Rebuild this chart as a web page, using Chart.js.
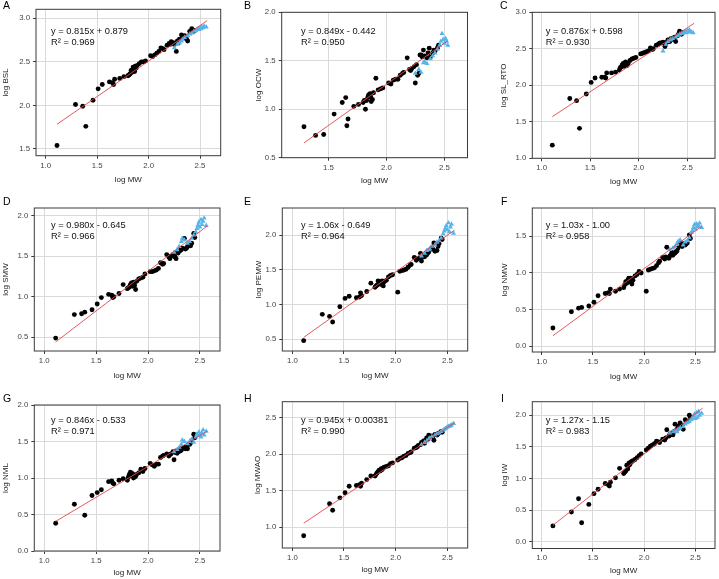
<!DOCTYPE html>
<html>
<head>
<meta charset="utf-8">
<script src="https://cdn.jsdelivr.net/npm/chart.js@4.4.0/dist/chart.umd.min.js"></script>
<style>
  html, body { margin: 0; padding: 0; background: #fff; }
  #wrap { position: relative; width: 719px; height: 579px; overflow: hidden; }
  #wrap canvas { position: absolute; }
</style>
</head>
<body>
<div id="wrap"></div>
<script>
// log MW of each species (black dots) and of the triangle group
const logMW = [
  1.11, 1.29, 1.36, 1.39, 1.46, 1.51, 1.55, 1.62, 1.65, 1.66,
  1.67, 1.72, 1.76, 1.80, 1.81, 1.82, 1.83, 1.84, 1.845, 1.85,
  1.86, 1.865, 1.87, 1.88, 1.89, 1.91, 1.93, 1.95, 1.97, 2.02,
  2.04, 2.06, 2.08, 2.10, 2.12, 2.14, 2.15, 2.18, 2.20, 2.21,
  2.22, 2.24, 2.25, 2.26, 2.27, 2.28, 2.29, 2.30, 2.31, 2.32,
  2.33, 2.35, 2.36, 2.37, 2.38, 2.40, 2.41, 2.42, 2.44, 2.45
];
const logMWTri = [2.25, 2.28, 2.30, 2.32, 2.33, 2.35, 2.38, 2.40, 2.42, 2.44,
                  2.46, 2.47, 2.48, 2.49, 2.50, 2.51, 2.52, 2.53, 2.54, 2.56];

// y values, one array per panel (null = not plotted in that panel)
const bslY = [
  1.54, 2.01, 1.99, 1.76, 2.06, 2.19, 2.24, 2.27, 2.26, 2.24,
  2.30, 2.31, 2.33, 2.34, 2.35, 2.36, 2.40, 2.38, 2.41, 2.44,
  2.42, 2.39, 2.45, 2.43, 2.46, 2.48, 2.50, 2.50, 2.51, 2.57,
  2.56, 2.58, 2.60, 2.62, 2.66, 2.65, 2.64, 2.69, 2.71, 2.70,
  2.73, 2.72, 2.70, 2.71, 2.62, 2.74, 2.72, 2.76, 2.75, 2.81,
  2.78, 2.80, 2.77, 2.76, 2.74, 2.85, 2.84, 2.88, 2.85, 2.86
];
const ocwY = [
  null, 0.82, null, 0.73, 0.74, null, 0.95, 1.07, 1.12, 0.83,
  0.90, 1.03, 1.05, 1.07, 1.09, 1.00, 1.09, 1.12, 1.14, 1.15,
  1.16, 1.13, 1.08, 1.10, 1.17, 1.32, 1.20, 1.21, 1.22, 1.27,
  1.26, 1.30, 1.31, 1.31, 1.35, 1.37, 1.38, 1.53, 1.41, 1.40,
  1.42, 1.44, 1.27, 1.46, 1.35, 1.37, 1.56, 1.56, 1.54, 1.61,
  1.55, 1.53, 1.58, 1.63, 1.54, 1.58, 1.61, 1.60, 1.63, 1.66
];
const slRtoY = [
  1.18, 1.82, 1.79, 1.41, 1.88, 2.04, 2.10, 2.11, 2.11, 2.10,
  2.17, 2.17, 2.18, 2.21, 2.24, 2.25, 2.28, 2.30, 2.27, 2.26,
  2.31, 2.32, 2.29, 2.27, 2.30, 2.34, 2.36, 2.37, 2.38, 2.43,
  2.44, 2.45, 2.46, 2.47, 2.51, 2.49, 2.50, 2.55, 2.56, 2.57,
  2.58, 2.58, 2.59, 2.58, 2.53, 2.57, 2.59, 2.62, 2.60, 2.60,
  2.64, 2.63, 2.65, 2.66, 2.60, 2.68, 2.70, 2.74, 2.70, 2.72
];
const smwY = [
  0.49, 0.78, 0.79, 0.81, 0.84, 0.91, 0.99, 1.03, 1.02, 0.99,
  1.00, 1.04, 1.15, 1.10, 1.11, 1.12, 1.15, 1.17, 1.14, 1.13,
  1.18, 1.16, 1.14, 1.09, 1.19, 1.22, 1.23, 1.24, 1.28, 1.31,
  1.31, 1.32, 1.33, 1.35, 1.42, 1.40, 1.41, 1.52, 1.49, 1.47,
  1.50, 1.52, 1.50, 1.49, 1.47, 1.55, 1.54, 1.56, 1.57, 1.58,
  1.60, 1.72, 1.59, 1.60, 1.62, 1.64, 1.63, 1.66, 1.78, 1.73
];
const pemwY = [
  0.48, 0.86, 0.83, 0.75, 0.97, 1.09, 1.12, 1.10, 1.11, 1.17,
  1.13, 1.19, 1.31, 1.25, 1.27, 1.28, 1.34, 1.30, 1.32, 1.33,
  1.29, 1.31, 1.34, 1.27, 1.33, 1.35, 1.40, 1.42, 1.43, 1.18,
  1.48, 1.49, 1.50, 1.51, 1.54, 1.57, 1.58, 1.68, 1.64, 1.66,
  1.67, 1.74, 1.63, 1.69, 1.70, 1.69, 1.71, 1.72, 1.74, 1.76,
  1.79, 1.82, 1.80, 1.89, 1.77, 1.78, 1.84, 1.88, 1.96, 1.94
];
const nmwY = [
  0.25, 0.47, 0.52, 0.53, 0.55, 0.60, 0.69, 0.72, 0.73, 0.72,
  0.78, 0.75, 0.78, 0.80, 0.84, 0.88, 0.86, 0.90, 0.91, 0.93,
  0.88, 0.92, 0.93, 0.85, 0.90, 0.96, 0.98, 1.02, 1.00, 0.75,
  1.04, 1.05, 1.06, 1.07, 1.10, 1.14, 1.16, 1.21, 1.19, 1.22,
  1.35, 1.20, 1.23, 1.25, 1.28, 1.24, 1.27, 1.27, 1.29, 1.30,
  1.34, 1.42, 1.38, 1.36, 1.40, 1.38, 1.40, 1.41, 1.52, 1.47
];
const nmlY = [
  0.38, 0.64, null, 0.49, 0.76, 0.80, 0.84, 0.95, 0.96, 0.93,
  0.92, 0.97, 0.99, 0.97, 1.01, 1.05, 1.08, 1.03, 1.06, 1.06,
  1.00, 1.04, 1.04, 1.02, 1.05, 1.07, 1.12, 1.09, 1.13, 1.20,
  1.18, 1.16, 1.19, 1.19, 1.28, 1.30, 1.31, 1.33, 1.30, 1.32,
  1.33, 1.36, 1.25, 1.35, 1.37, 1.34, 1.36, 1.39, 1.37, 1.38,
  1.41, 1.42, 1.40, 1.43, 1.40, 1.46, 1.48, 1.51, 1.60, 1.55
];
const mwaoY = [
  0.88, null, 1.32, 1.23, 1.40, 1.47, 1.56, 1.57, 1.58, 1.56,
  1.60, 1.65, 1.70, 1.70, 1.72, 1.74, 1.76, 1.78, 1.77, 1.77,
  1.80, 1.79, 1.79, 1.81, 1.82, 1.83, 1.84, 1.87, 1.88, 1.92,
  1.94, 1.95, 1.97, 1.98, 2.01, 2.02, 2.03, 2.08, 2.09, 2.10,
  2.12, 2.13, 2.16, 2.15, 2.18, 2.15, 2.19, 2.22, 2.20, 2.26,
  2.23, 2.25, 2.24, 2.19, 2.27, 2.26, 2.28, 2.29, 2.31, 2.30
];
const iwY = [
  0.25, 0.47, 0.68, 0.30, 0.59, 0.76, 0.83, 0.92, 0.90, 0.88,
  0.94, 1.01, 1.16, 1.08, 1.10, 1.12, 1.21, 1.15, 1.20, 1.24,
  1.22, 1.25, 1.26, 1.27, 1.28, 1.30, 1.33, 1.36, 1.39, 1.45,
  1.48, 1.51, 1.53, 1.55, 1.59, 1.58, 1.57, 1.62, 1.61, 1.64,
  1.77, 1.67, 1.70, 1.69, 1.72, 1.69, 1.74, 1.86, 1.76, 1.78,
  1.83, 1.88, 1.82, 1.84, 1.78, 1.93, 1.91, 1.90, 2.00, 1.96
];

// triangle group
const bslTri  = [2.66, 2.70, 2.72, 2.74, 2.76, 2.78, 2.80, 2.82, 2.83, 2.85, 2.86, 2.87, 2.88, 2.87, 2.89, 2.88, 2.90, 2.89, 2.91, 2.90];
const ocwTri  = [1.37, 1.41, 1.38, 1.48, 1.49, 1.47, 1.52, 1.55, 1.58, 1.62, 1.66, 1.70, 1.78, 1.72, 1.68, 1.73, 1.70, 1.66, null, null];
const slRtoTri = [2.47, 2.56, 2.60, 2.62, 2.63, 2.64, 2.66, 2.68, 2.70, 2.71, 2.72, 2.73, 2.74, 2.72, 2.75, 2.73, 2.76, 2.74, 2.73, 2.72];
const smwTri  = [1.55, 1.58, 1.62, 1.68, 1.72, 1.70, 1.66, 1.68, 1.72, 1.76, 1.80, 1.84, 1.88, 1.92, 1.86, 1.95, 1.89, 1.93, 1.97, 1.88];
const pemwTri = [1.70, 1.74, 1.78, 1.79, 1.80, 1.84, 1.86, 1.90, 1.92, 1.96, 2.02, 2.06, 2.10, 2.14, 2.08, 2.18, 2.05, 2.12, 2.16, 2.03];
const nmwTri  = [1.32, 1.34, 1.36, 1.40, 1.43, 1.45, 1.38, 1.42, 1.44, 1.48, 1.55, 1.58, 1.62, 1.66, 1.60, 1.67, 1.63, 1.65, 1.68, 1.62];
const nmlTri  = [1.36, 1.39, 1.42, 1.46, 1.52, 1.50, 1.47, 1.50, 1.53, 1.49, 1.56, 1.60, 1.58, 1.63, 1.60, 1.56, 1.62, 1.66, 1.59, 1.64];
const mwaoTri = [2.13, 2.16, 2.18, 2.21, 2.22, 2.24, 2.26, 2.28, 2.29, 2.31, 2.33, 2.34, 2.35, 2.36, 2.37, 2.38, 2.38, 2.39, 2.40, 2.42];
const iwTri   = [1.72, 1.74, 1.76, 1.74, 1.78, 1.80, 1.82, 1.86, 1.88, 1.90, 1.93, 1.96, 1.99, 2.02, 1.95, 2.04, 1.97, 2.06, 2.00, 2.03];

const dotSeries = [bslY, ocwY, slRtoY, smwY, pemwY, nmwY, nmlY, mwaoY, iwY];
const triSeries = [bslTri, ocwTri, slRtoTri, smwTri, pemwTri, nmwTri, nmlTri, mwaoTri, iwTri];

const letters = ['A', 'B', 'C', 'D', 'E', 'F', 'G', 'H', 'I'];
const yTitles = ['log BSL', 'log OCW', 'log SL_RTO', 'log SMW', 'log PEMW', 'log NMW', 'log NML', 'log MWAO', 'log IW'];

// regression fits, as printed on each panel
const slopes = [0.815, 0.849, 0.876, 0.980, 1.06, 1.03, 0.846, 0.945, 1.27];
const intercepts = [0.879, -0.442, 0.598, -0.645, -0.649, -1.00, -0.533, 0.00381, -1.15];
const eqText = ['y = 0.815x + 0.879', 'y = 0.849x - 0.442', 'y = 0.876x + 0.598',
                'y = 0.980x - 0.645', 'y = 1.06x - 0.649', 'y = 1.03x - 1.00',
                'y = 0.846x - 0.533', 'y = 0.945x + 0.00381', 'y = 1.27x - 1.15'];
const r2Text = ['0.969', '0.950', '0.930', '0.966', '0.964', '0.958', '0.971', '0.990', '0.983'];
const fitFrom = [1.11, 1.29, 1.11, 1.11, 1.11, 1.11, 1.11, 1.11, 1.11];
const fitTo   = [2.57, 2.53, 2.57, 2.57, 2.57, 2.56, 2.57, 2.57, 2.57];

// axes
const xTicks = [
  [1.0, 1.5, 2.0, 2.5], [1.5, 2.0, 2.5], [1.0, 1.5, 2.0, 2.5],
  [1.0, 1.5, 2.0, 2.5], [1.0, 1.5, 2.0, 2.5], [1.0, 1.5, 2.0, 2.5],
  [1.0, 1.5, 2.0, 2.5], [1.0, 1.5, 2.0, 2.5], [1.0, 1.5, 2.0, 2.5]
];
const yTicks = [
  [1.5, 2.0, 2.5, 3.0], [0.5, 1.0, 1.5, 2.0], [1.0, 1.5, 2.0, 2.5, 3.0],
  [0.5, 1.0, 1.5, 2.0], [0.5, 1.0, 1.5, 2.0], [0.0, 0.5, 1.0, 1.5],
  [0.0, 0.5, 1.0, 1.5, 2.0], [1.0, 1.5, 2.0, 2.5], [0.0, 0.5, 1.0, 1.5, 2.0]
];
const xRange = [
  [0.906, 2.701], [1.098, 2.70], [0.904, 2.785],
  [0.904, 2.693], [0.903, 2.697], [0.909, 2.69],
  [0.904, 2.693], [0.903, 2.697], [0.909, 2.69]
];
const yRange = [
  [1.423, 3.103], [0.5, 2.0], [1.0, 3.0],
  [0.331, 2.095], [0.331, 2.394], [-0.078, 1.886],
  [0.0, 2.0], [0.712, 2.719], [-0.108, 2.215]
];

// page geometry (pixels): cell, plot frame, title and label anchors
const cells = [
  [0, 0, 240, 193], [240, 0, 239, 193], [479, 0, 240, 193],
  [0, 193, 240, 193], [240, 193, 239, 193], [479, 193, 240, 193],
  [0, 386, 240, 193], [240, 386, 239, 193], [479, 386, 240, 193]
];
const frames = [
  [36, 9.3, 220.7, 155.7], [281.7, 12.3, 467.5, 157.7], [532.3, 12.3, 717, 158.3],
  [34.3, 208, 220, 351], [282.3, 208, 467.7, 351], [532.3, 208, 717, 352],
  [34.3, 405, 220, 551], [282.3, 401.7, 467.7, 548], [532.3, 401.7, 717, 548.5]
];
const yTitleX = [6, 258.3, 504, 6, 259, 505, 6, 258, 505];
const xTitleY = [180, 181, 181.5, 375.7, 375.7, 377, 573, 569.5, 571];
const letterPos = [[3, 6.5], [244, 6], [500, 6], [3, 202], [244, 202], [501, 202], [3, 399], [244, 399.5], [501, 399]];
const eqPos = [[51, 31], [301, 31], [545.7, 31], [51, 225.3], [301, 225.3], [545.7, 225.3], [51, 420], [301, 420], [545.7, 420]];

const FONT = '"Liberation Sans", Arial, Helvetica, sans-serif';
const TICK_SIZE = 7.8;
const TITLE_SIZE = 8;

Chart.defaults.font.family = FONT;

// frame, equation text and panel letter
const panelDecor = {
  id: 'panelDecor',
  afterDraw(chart, args, opts) {
    const {ctx, chartArea: a} = chart;
    ctx.save();
    ctx.strokeStyle = '#3a3a3a';
    ctx.lineWidth = 1;
    ctx.strokeRect(a.left, a.top, a.right - a.left, a.bottom - a.top);
    ctx.fillStyle = '#111';
    ctx.textAlign = 'left';
    ctx.textBaseline = 'middle';
    ctx.font = '9.3px ' + FONT;
    ctx.fillText(opts.eq, opts.eqX, opts.eqY);
    ctx.fillText('R\u00B2 = ' + opts.r2, opts.eqX, opts.eqY + 11.3);
    ctx.font = '10.5px ' + FONT;
    ctx.fillStyle = '#000';
    ctx.fillText(opts.letter, opts.letterX, opts.letterY);
    ctx.restore();
  }
};

function makePanel(i) {
  const [cx, cy, cw, ch] = cells[i];
  const [L, T, R, B] = frames[i];
  const wrap = document.getElementById('wrap');
  const canvas = document.createElement('canvas');
  canvas.width = cw;
  canvas.height = ch;
  canvas.style.left = cx + 'px';
  canvas.style.top = cy + 'px';
  canvas.style.width = cw + 'px';
  canvas.style.height = ch + 'px';
  wrap.appendChild(canvas);

  const lh = TITLE_SIZE * 1.2;
  const padLeft = yTitleX[i] - cx - lh / 2;
  const yAxisW = L - cx - padLeft;
  const xAxisH = cy + ch - B;
  const xTitlePad = cy + ch - xTitleY[i] - lh / 2;

  const dots = logMW.map((x, k) => ({x: x, y: dotSeries[i][k]})).filter(p => p.y !== null);
  const tris = logMWTri.map((x, k) => ({x: x, y: triSeries[i][k]})).filter(p => p.y !== null);
  const fit = [fitFrom[i], fitTo[i]].map(x => ({x: x, y: slopes[i] * x + intercepts[i]}));

  new Chart(canvas, {
    type: 'scatter',
    data: {
      datasets: [
        {
          data: fit, showLine: true, borderColor: '#e2474b', borderWidth: 0.9,
          pointRadius: 0, fill: false
        },
        {
          data: tris, pointStyle: 'triangle', pointRadius: 2.9,
          backgroundColor: '#56B4E9', borderWidth: 0
        },
        {
          data: dots, pointStyle: 'circle', pointRadius: 2.45,
          backgroundColor: '#000', borderWidth: 0
        }
      ]
    },
    options: {
      responsive: false,
      animation: false,
      events: [],
      layout: { padding: { left: padLeft, top: T - cy, right: cx + cw - R, bottom: 0 } },
      plugins: {
        legend: { display: false },
        tooltip: { enabled: false },
        panelDecor: {
          eq: eqText[i], r2: r2Text[i], letter: letters[i],
          eqX: eqPos[i][0] - cx, eqY: eqPos[i][1] - cy,
          letterX: letterPos[i][0] - cx, letterY: letterPos[i][1] - cy
        }
      },
      scales: {
        x: {
          type: 'linear', min: xRange[i][0], max: xRange[i][1],
          afterBuildTicks: s => { s.ticks = xTicks[i].map(v => ({value: v})); },
          afterFit: s => { s.height = xAxisH; },
          ticks: {
            callback: v => Number(v).toFixed(1), autoSkip: false, maxRotation: 0,
            padding: 2, color: '#444', font: { size: TICK_SIZE }
          },
          grid: { color: '#dadada', lineWidth: 1, tickLength: 3, tickColor: '#3a3a3a' },
          border: { display: false },
          title: {
            display: true, text: 'log MW', color: '#1a1a1a',
            font: { size: TITLE_SIZE }, padding: { top: 0, bottom: xTitlePad }
          }
        },
        y: {
          type: 'linear', min: yRange[i][0], max: yRange[i][1],
          afterBuildTicks: s => { s.ticks = yTicks[i].map(v => ({value: v})); },
          afterFit: s => { s.width = yAxisW; },
          ticks: {
            callback: v => Number(v).toFixed(1), autoSkip: false,
            padding: 3, color: '#444', font: { size: TICK_SIZE }
          },
          grid: { color: '#dadada', lineWidth: 1, tickLength: 3, tickColor: '#3a3a3a' },
          border: { display: false },
          title: {
            display: true, text: yTitles[i], color: '#1a1a1a',
            font: { size: TITLE_SIZE }, padding: { top: 0, bottom: 0 }
          }
        }
      }
    },
    plugins: [panelDecor]
  });
}

for (let i = 0; i < 9; i++) makePanel(i);
</script>
</body>
</html>
